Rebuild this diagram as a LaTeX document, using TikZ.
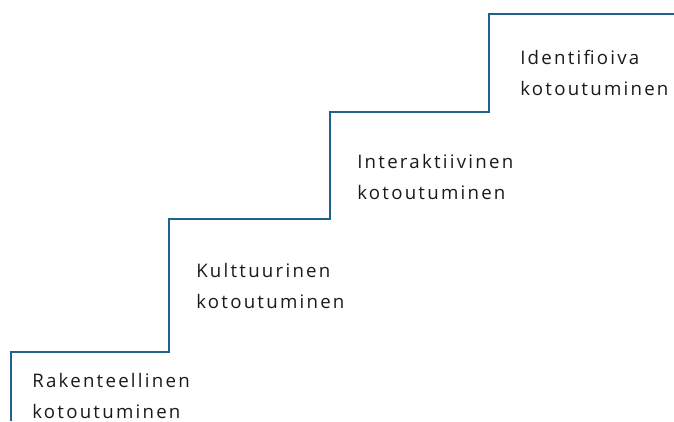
\documentclass[tikz,border=0pt]{standalone}
\usepackage{fontspec}
\setmainfont{Open Sans}[LetterSpace=12]
\usepackage{tikz}
\definecolor{stairblue}{RGB}{31,99,140}
\definecolor{labelgray}{RGB}{26,26,26}

\begin{document}
\begin{tikzpicture}[x=0.75pt,y=-0.75pt]
        \tikzset{
            StairStyle/.style = {
                draw = stairblue,
                line width = 1.5pt},
            StepLabel/.style = {
                anchor = base west,
                align = left,
                inner sep = 0pt,
                text = labelgray,
                font = \fontsize{14}{23.25}\selectfont}
                }
    \useasboundingbox (0,0) rectangle (674,421);
    % corners of the stairs
    \coordinate (S) at (10.7,421);
    \coordinate (K1) at (169,352);
    \coordinate (K2) at (330,218.5);
    \coordinate (K3) at (488.5,111.5);
    \coordinate (K4) at (674,13.7);
    \draw[StairStyle] (S) |- (K1) |- (K2) |- (K3) |- (K4);
    % labels (anchored on the second line)
    \node[StepLabel] (rakenteellinen) at (32,418) {Rakenteellinen\\kotoutuminen};
    \node[StepLabel] (kulttuurinen) at (196,308) {Kulttuurinen\\kotoutuminen};
    \node[StepLabel] (interaktiivinen) at (357,199) {Interaktiivinen\\kotoutuminen};
    \node[StepLabel] (identifioiva) at (520,95.5) {Identifioiva\\kotoutuminen};
\end{tikzpicture}
\end{document}
